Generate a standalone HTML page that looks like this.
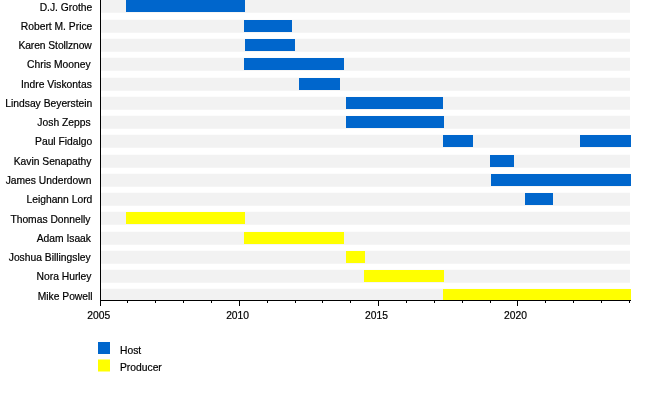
<!DOCTYPE html>
<html><head><meta charset="utf-8"><title>Timeline</title>
<style>html,body{margin:0;padding:0;background:#fff}svg{display:block}text{font-family:"Liberation Sans",Arial,Helvetica,sans-serif;font-size:10.3px;fill:#000;stroke:#000;stroke-width:0.2px}</style></head><body>
<svg width="650" height="400" viewBox="0 0 650 400">
<rect x="0" y="0" width="650" height="400" fill="#fff"/>
<rect x="101" y="0" width="529" height="12.75" fill="#f2f2f2"/>
<rect x="101" y="19.75" width="529" height="13" fill="#f2f2f2"/>
<rect x="101" y="38.75" width="529" height="13" fill="#f2f2f2"/>
<rect x="101" y="57.75" width="529" height="13" fill="#f2f2f2"/>
<rect x="101" y="77.75" width="529" height="13" fill="#f2f2f2"/>
<rect x="101" y="96.75" width="529" height="13" fill="#f2f2f2"/>
<rect x="101" y="115.75" width="529" height="13" fill="#f2f2f2"/>
<rect x="101" y="134.75" width="529" height="13" fill="#f2f2f2"/>
<rect x="101" y="154.75" width="529" height="13" fill="#f2f2f2"/>
<rect x="101" y="173.75" width="529" height="13" fill="#f2f2f2"/>
<rect x="101" y="192.75" width="529" height="13" fill="#f2f2f2"/>
<rect x="101" y="211.75" width="529" height="13" fill="#f2f2f2"/>
<rect x="101" y="231.75" width="529" height="13" fill="#f2f2f2"/>
<rect x="101" y="250.75" width="529" height="13" fill="#f2f2f2"/>
<rect x="101" y="269.75" width="529" height="13" fill="#f2f2f2"/>
<rect x="101" y="288.75" width="529" height="11.25" fill="#f2f2f2"/>
<rect x="126" y="0" width="119" height="12" fill="#0066cc"/>
<rect x="244" y="20" width="48" height="12" fill="#0066cc"/>
<rect x="245" y="39" width="50" height="12" fill="#0066cc"/>
<rect x="244" y="58" width="100" height="12" fill="#0066cc"/>
<rect x="299" y="78" width="41" height="12" fill="#0066cc"/>
<rect x="346" y="97" width="97" height="12" fill="#0066cc"/>
<rect x="346" y="116" width="98" height="12" fill="#0066cc"/>
<rect x="443" y="135" width="30" height="12" fill="#0066cc"/>
<rect x="580" y="135" width="51" height="12" fill="#0066cc"/>
<rect x="490" y="155" width="24" height="12" fill="#0066cc"/>
<rect x="491" y="174" width="140" height="12" fill="#0066cc"/>
<rect x="525" y="193" width="28" height="12" fill="#0066cc"/>
<rect x="126" y="212" width="119" height="12" fill="#ffff00"/>
<rect x="244" y="232" width="100" height="12" fill="#ffff00"/>
<rect x="346" y="251" width="19" height="12" fill="#ffff00"/>
<rect x="364" y="270" width="80" height="12" fill="#ffff00"/>
<rect x="443" y="289" width="188" height="11" fill="#ffff00"/>
<rect x="100" y="0" width="1" height="306" fill="#000"/>
<rect x="100" y="300" width="531" height="1" fill="#000"/>
<rect x="127" y="300" width="1" height="3" fill="#000"/>
<rect x="155" y="300" width="1" height="3" fill="#000"/>
<rect x="183" y="300" width="1" height="3" fill="#000"/>
<rect x="211" y="300" width="1" height="3" fill="#000"/>
<rect x="239" y="300" width="1" height="6" fill="#000"/>
<rect x="267" y="300" width="1" height="3" fill="#000"/>
<rect x="295" y="300" width="1" height="3" fill="#000"/>
<rect x="322" y="300" width="1" height="3" fill="#000"/>
<rect x="350" y="300" width="1" height="3" fill="#000"/>
<rect x="378" y="300" width="1" height="6" fill="#000"/>
<rect x="406" y="300" width="1" height="3" fill="#000"/>
<rect x="434" y="300" width="1" height="3" fill="#000"/>
<rect x="462" y="300" width="1" height="3" fill="#000"/>
<rect x="490" y="300" width="1" height="3" fill="#000"/>
<rect x="517" y="300" width="1" height="6" fill="#000"/>
<rect x="545" y="300" width="1" height="3" fill="#000"/>
<rect x="573" y="300" width="1" height="3" fill="#000"/>
<rect x="601" y="300" width="1" height="3" fill="#000"/>
<rect x="629" y="300" width="1" height="3" fill="#000"/>
<text x="98.75" y="319.2" text-anchor="middle">2005</text>
<text x="237.6" y="319.2" text-anchor="middle">2010</text>
<text x="376.5" y="319.2" text-anchor="middle">2015</text>
<text x="515.5" y="319.2" text-anchor="middle">2020</text>
<text x="92.3" y="10.9" text-anchor="end">D.J. Grothe</text>
<text x="92.3" y="29.8" text-anchor="end">Robert M. Price</text>
<text x="91.8" y="48.6" text-anchor="end" textLength="73.4" lengthAdjust="spacing">Karen Stollznow</text>
<text x="90.6" y="67.9" text-anchor="end">Chris Mooney</text>
<text x="91.8" y="87.5" text-anchor="end">Indre Viskontas</text>
<text x="92.3" y="106.6" text-anchor="end">Lindsay Beyerstein</text>
<text x="90.6" y="125.9" text-anchor="end">Josh Zepps</text>
<text x="92.3" y="145.2" text-anchor="end">Paul Fidalgo</text>
<text x="91.5" y="164.6" text-anchor="end">Kavin Senapathy</text>
<text x="91.5" y="183.9" text-anchor="end">James Underdown</text>
<text x="92.3" y="203.2" text-anchor="end">Leighann Lord</text>
<text x="90.5" y="222.6" text-anchor="end">Thomas Donnelly</text>
<text x="91.0" y="241.9" text-anchor="end">Adam Isaak</text>
<text x="90.6" y="261.2" text-anchor="end">Joshua Billingsley</text>
<text x="91.5" y="280.1" text-anchor="end">Nora Hurley</text>
<text x="92.6" y="299.8" text-anchor="end">Mike Powell</text>
<rect x="98" y="342" width="12" height="12" fill="#0066cc"/>
<rect x="98" y="359.5" width="12" height="12" fill="#ffff00"/>
<text x="120" y="353.8">Host</text>
<text x="120" y="371.2">Producer</text>
</svg></body></html>
